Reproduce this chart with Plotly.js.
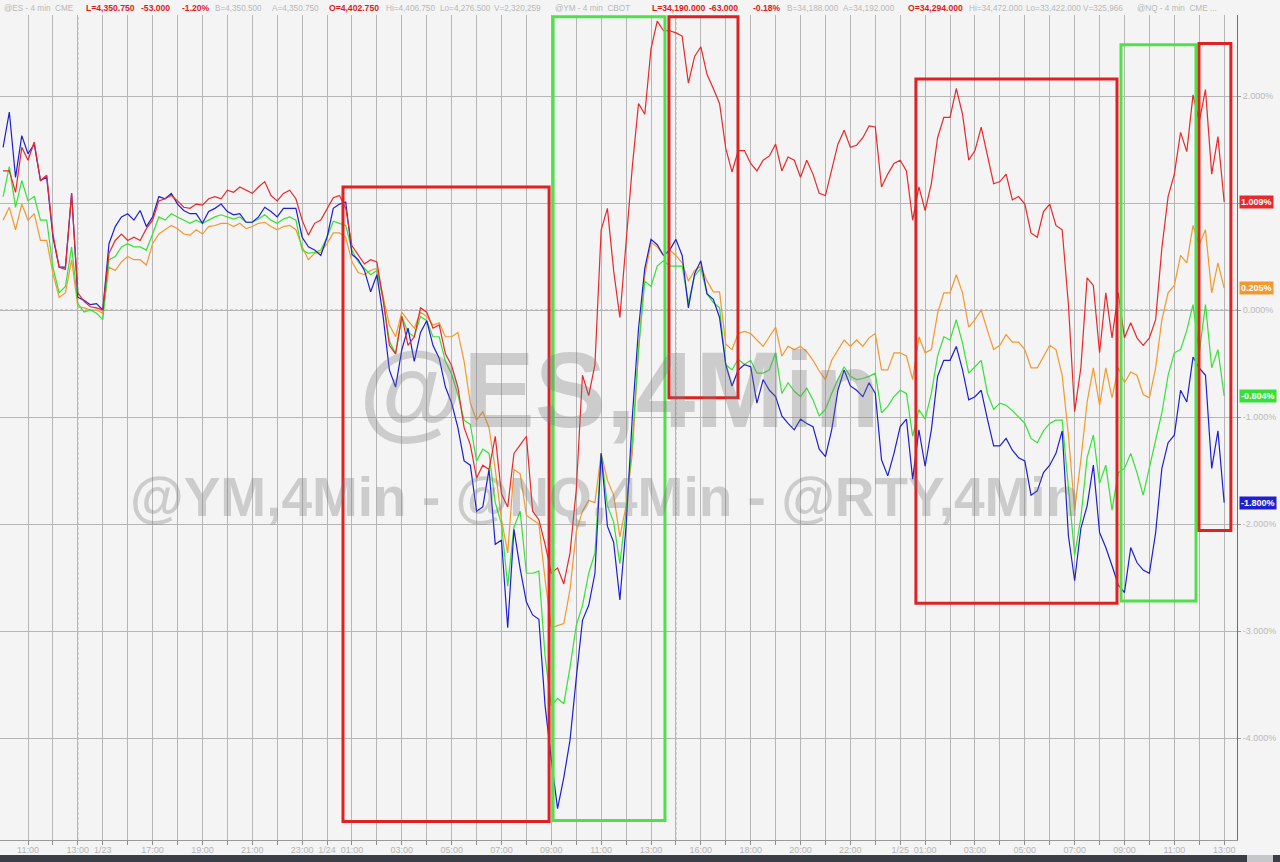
<!DOCTYPE html>
<html><head><meta charset="utf-8">
<script src="https://cdn.plot.ly/plotly-3.0.1.min.js"></script>
<style>html,body{margin:0;padding:0;background:#f4f4f4;overflow:hidden}#chart{width:1280px;height:862px}</style>
</head><body><div id="chart"></div>
<script>
// time axis: hour slots (session gaps removed), sampled every 15 minutes starting 1 slot before 11:00 on 1/21
const startSlot = -1;
const slotStep = 0.25;

const ymRed = [
1.30,1.30,1.10,1.52, 1.40,1.57,1.21,1.26, 0.71,0.40,0.38,1.09, 0.16,0.08,0.03,0.02, 0.00,0.53,0.65,0.71, 0.65,0.68,0.65,0.76, 0.84,1.02,1.04,1.07, 1.02,0.96,0.95,0.99, 0.98,1.04,1.06,1.04, 1.12,1.10,1.15,1.12, 1.09,1.15,1.20,1.07, 1.02,1.09,1.12,1.04, 0.84,0.70,0.81,0.84, 0.95,
1.05,1.07,0.95, 0.60,0.52,0.43,0.47, 0.45,0.10,-0.33,-0.41, -0.06,-0.33,-0.25,0.02, -0.02,-0.17,-0.14,-0.41, -0.52,-0.72,-1.10,-1.26, -1.57,-1.45,-1.49,-1.18, -1.72,-1.84,-1.34,-1.26, -1.18,-1.88,-1.96,-2.19, -2.46,
-2.41,-2.56,-2.27, -1.68,-0.61,-0.80,-0.51, 0.75,0.95,0.37,-0.07, 0.66,1.34,1.93,1.83, 2.44,2.70,2.61,2.61, 2.59,2.56,2.12,2.37, 2.46,2.20,2.07,1.93, 1.51,1.29,1.49,1.49,
1.37,1.30,1.40,1.44, 1.55,1.30,1.43,1.40, 1.24,1.40,1.27,1.09, 1.07,1.30,1.55,1.68, 1.52,1.54,1.61,1.72, 1.71,1.15,1.27,1.37, 1.40,1.30,0.84,1.15, 0.93,1.18,1.61,1.80, 1.80,2.07,1.83,1.40, 1.49,1.71,1.46,1.18,
1.20,1.27,1.03,1.06, 0.99,0.72,0.68,0.92, 0.99,0.79,0.75,0.05, -0.95,-0.54,0.30,0.23, -0.40,0.16,-0.26,0.16, -0.26,-0.12,-0.26,-0.33, -0.26,-0.09,0.58,1.06, 1.27,1.66,1.48,2.01, 1.76,2.06,1.27,1.62, 1.009];

const rtyOrange = [
0.84,0.96,0.75,0.99, 0.84,0.90,0.65,0.65, 0.34,0.12,0.16,0.47, 0.03,0.02,0.00,0.00, -0.03,0.40,0.37,0.45, 0.50,0.47,0.47,0.42, 0.62,0.71,0.75,0.79, 0.76,0.71,0.70,0.75, 0.71,0.78,0.79,0.81, 0.81,0.78,0.81,0.76, 0.78,0.81,0.82,0.78, 0.75,0.78,0.79,0.75, 0.59,0.47,0.53,0.54, 0.62,
0.72,0.72,0.68, 0.45,0.35,0.33,0.37, 0.39,0.14,-0.14,-0.25, -0.02,-0.10,-0.17,-0.02, -0.06,-0.14,-0.12,-0.25, -0.25,-0.21,-0.48,-0.87, -1.03,-0.95,-1.10,-1.49, -1.96,-2.27,-1.49,-1.53, -1.92,-1.96,-2.00,-2.52, -2.97,
-2.95,-2.93,-2.61, -2.07,-1.88,-1.78,-1.80, -1.34,-1.59,-1.73,-2.12, -1.83,-1.34,-0.37,0.32, 0.63,0.59,0.51,0.56, 0.51,0.44,0.27,0.37, 0.41,0.27,0.17,0.17, -0.32,-0.37,-0.22,-0.20,
-0.22,-0.28,-0.34,-0.25, -0.16,-0.43,-0.34,-0.37, -0.34,-0.39,-0.47,-0.57, -0.65,-0.47,-0.37,-0.28, -0.34,-0.28,-0.34,-0.26, -0.22,-0.56,-0.56,-0.40, -0.40,-0.43,-0.65,-0.25, -0.40,-0.37,-0.03,0.16, 0.16,0.33,0.16,-0.16, -0.09,0.00,-0.19,-0.37,
-0.33,-0.23,-0.30,-0.30, -0.37,-0.54,-0.54,-0.44, -0.33,-0.37,-0.61,-1.17, -1.87,-1.40,-0.86,-0.54, -0.89,-0.54,-0.82,-0.54, -0.68,-0.58,-0.61,-0.79, -0.82,-0.54,-0.09,0.16, 0.23,0.51,0.44,0.79, 0.61,0.75,0.16,0.44, 0.205];

const esGreen = [
1.06,1.34,0.96,1.21, 1.02,1.06,0.84,0.84, 0.40,0.16,0.22,0.59, 0.06,-0.02,0.00,-0.03, -0.09,0.47,0.50,0.59, 0.62,0.59,0.59,0.56, 0.71,0.87,0.84,0.90, 0.87,0.84,0.81,0.84, 0.81,0.84,0.87,0.89, 0.87,0.85,0.87,0.82, 0.82,0.85,0.89,0.84, 0.81,0.85,0.87,0.84, 0.56,0.53,0.54,0.56, 0.68,
0.83,0.81,0.79, 0.56,0.45,0.39,0.33, 0.37,0.10,-0.29,-0.41, -0.06,-0.21,-0.25,-0.06, -0.10,-0.25,-0.25,-0.48, -0.60,-0.79,-1.03,-1.07, -1.41,-1.30,-1.34,-1.80, -2.00,-2.58,-2.03,-1.88, -2.46,-2.46,-2.44,-3.24, -3.70,
-3.63,-3.68,-3.34, -2.95,-2.76,-2.46,-2.27, -1.34,-1.83,-1.98,-2.37, -1.88,-1.24,-0.37,0.27, 0.22,0.41,0.46,0.41, 0.41,0.41,0.07,0.32, 0.39,0.15,0.07,0.02, -0.51,-0.56,-0.46,-0.51,
-0.47,-0.59,-0.59,-0.56, -0.40,-0.78,-0.68,-0.76, -0.81,-0.73,-0.84,-0.99, -0.93,-0.78,-0.65,-0.53, -0.62,-0.65,-0.64,-0.62, -0.59,-0.96,-0.90,-0.81, -0.75,-0.78,-1.18,-0.93, -1.02,-0.78,-0.43,-0.25, -0.28,-0.09,-0.31,-0.59, -0.53,-0.47,-0.78,-0.93,
-0.87,-0.89,-0.94,-1.00, -1.06,-1.20,-1.24,-1.13, -1.06,-1.03,-1.03,-1.66, -2.29,-1.94,-1.38,-1.17, -1.62,-1.45,-1.87,-1.52, -1.48,-1.34,-1.52,-1.73, -1.48,-1.24,-0.96,-0.61, -0.40,-0.37,-0.19,0.05, -0.40,0.05,-0.54,-0.37, -0.804];

const nqBlue = [
1.52,1.85,1.24,1.63, 1.46,1.55,1.21,1.24, 0.68,0.40,0.40,1.09, 0.12,0.09,0.05,0.06, 0.00,0.62,0.78,0.87, 0.90,0.84,0.93,0.78, 0.87,1.06,1.04,1.09, 0.99,0.93,0.90,0.90, 0.81,0.92,0.95,0.99, 0.92,0.89,0.90,0.82, 0.82,0.87,0.96,0.92, 0.87,0.95,0.95,0.95, 0.68,0.59,0.56,0.51, 0.68,
0.95,0.99,1.01, 0.52,0.47,0.37,0.17, 0.33,-0.06,-0.56,-0.72, -0.37,-0.17,-0.48,-0.21, -0.10,-0.33,-0.45,-0.72, -0.87,-1.10,-1.41,-1.45, -1.88,-1.84,-1.49,-2.19, -2.15,-2.97,-2.05,-2.42, -2.73,-2.85,-2.89,-3.70, -4.20,
-4.66,-4.37,-4.02, -3.44,-2.90,-2.76,-2.46, -1.34,-2.02,-2.17,-2.71, -2.02,-1.00,-0.17,0.39, 0.66,0.61,0.51,0.56, 0.66,0.51,0.02,0.34, 0.46,0.15,0.10,-0.07, -0.51,-0.71,-0.56,-0.51,
-0.53,-0.87,-0.65,-0.75, -0.81,-0.99,-1.06,-1.12, -1.02,-1.06,-1.09,-1.30, -1.37,-1.12,-0.75,-0.56, -0.71,-0.75,-0.81,-0.68, -0.78,-1.40,-1.55,-1.34, -1.09,-1.02,-1.58,-1.12, -1.46,-1.12,-0.62,-0.47, -0.47,-0.34,-0.56,-0.84, -0.81,-0.75,-1.02,-1.27,
-1.27,-1.20,-1.31,-1.38, -1.41,-1.73,-1.69,-1.52, -1.45,-1.34,-1.13,-2.11, -2.53,-2.04,-1.83,-1.45, -2.08,-2.22,-2.39,-2.57, -2.64,-2.22,-2.36,-2.43, -2.46,-2.08,-1.48,-1.24, -1.17,-0.75,-0.86,-0.44, -0.54,-0.61,-1.48,-1.13, -1.80];

// x tick labels (hour slot -> label)
const labelSlots = [0,2,3,5,7,9,11,12,13,15,17,19,21,23,25,27,29,31,33,35,36,38,40,42,44,46,48];
const labelTexts = ['11:00','13:00','1/23','17:00','19:00','21:00','23:00','1/24','01:00','03:00','05:00','07:00','09:00','11:00','13:00','16:00','18:00','20:00','22:00','1/25','01:00','03:00','05:00','07:00','09:00','11:00','13:00'];
const yTickVals = [2,1,0,-1,-2,-3,-4];
const yTickText = ['2.000%','1.000%','0.000%','-1.000%','-2.000%','-3.000%','-4.000%'];
const dashedSlots = [2,26];

// highlight boxes: [slotStart, slotEnd, pctTop, pctBottom, kind]
const boxes = [
  [12.64,20.91,1.15,-4.78,'red'],
  [21.07,25.56,2.74,-4.77,'green'],
  [25.72,28.49,2.74,-0.82,'red'],
  [35.63,43.70,2.16,-2.74,'red'],
  [43.86,46.87,2.48,-2.72,'green'],
  [46.99,48.27,2.49,-2.06,'red']
];

const headerChunks = [
 ['@ES - 4 min  CME','g'],['L=4,350.750','r'],['-53.000','r'],['-1.20%','r'],['B=4,350.500','g'],['A=4,350.750','g'],
 ['O=4,402.750','r'],['Hi=4,406.750','g'],['Lo=4,276.500','g'],['V=2,320,259','g'],['@YM - 4 min  CBOT','g'],
 ['L=34,190.000','r'],['-63.000','r'],['-0.18%','r'],['B=34,188.000','g'],['A=34,192.000','g'],['O=34,294.000','r'],
 ['Hi=34,472.000','g'],['Lo=33,422.000','g'],['V=325,966','g'],['@NQ - 4 min  CME ...','g']
];
const headerPx = [2,84,139,180,213,270,327,384,438,492,553,650,707,751,785,841,906,967,1024,1081,1135];

const colors = {red:'#e8282a', orange:'#f3982e', green:'#37e037', blue:'#1f1fd2'};
const boxColors = {red:'#dc2222', green:'#4fe04a'};

const n = ymRed.length;
const slots = [];
for (let i = 0; i < n; i++) slots.push(startSlot + i*slotStep);

const series = [
  {name:'@RTY', y:rtyOrange, c:colors.orange},
  {name:'@ES', y:esGreen, c:colors.green},
  {name:'@NQ', y:nqBlue, c:colors.blue},
  {name:'@YM', y:ymRed, c:colors.red}
];
const traces = series.map(s => ({x:slots, y:s.y, type:'scatter', mode:'lines', name:s.name,
  line:{color:s.c, width:1.2}, hoverinfo:'skip'}));

const plotW = 1237, plotH = 825;
const gridSlots = []; for (let k = 0; k <= 48; k++) gridSlots.push(k);
const gridText = gridSlots.map(k => { const i = labelSlots.indexOf(k); return i >= 0 ? labelTexts[i] : ''; });

const shapes = [];
dashedSlots.forEach(k => {
  shapes.push({type:'line', xref:'x', yref:'paper', x0:k, x1:k, y0:0, y1:1, layer:'between', line:{color:'#f4f4f4', width:2}});
  shapes.push({type:'line', xref:'x', yref:'paper', x0:k, x1:k, y0:0, y1:1, layer:'between', line:{color:'#a8a8a8', width:1, dash:'3px,2px'}});
});
shapes.push({type:'line', xref:'paper', yref:'y', x0:0, x1:1, y0:0, y1:0, layer:'between', line:{color:'#f4f4f4', width:2}});
shapes.push({type:'line', xref:'paper', yref:'y', x0:0, x1:1, y0:0, y1:0, layer:'between', line:{color:'#a8a8a8', width:1, dash:'3px,2px'}});
boxes.forEach(b => shapes.push({type:'rect', xref:'x', yref:'y', x0:b[0], x1:b[1], y0:b[2], y1:b[3],
  line:{color:boxColors[b[4]], width:3}, fillcolor:'rgba(0,0,0,0)', layer:'above'}));
shapes.push({type:'rect', xref:'paper', yref:'paper', x0:-0.01, x1:1280/plotW, y0:-(855-840)/plotH, y1:-(870-840)/plotH,
  line:{width:0}, fillcolor:'#3a3f47'});
shapes.push({type:'rect', xref:'paper', yref:'paper', x0:1247/plotW, x1:1273/plotW, y0:-(855-840)/plotH, y1:-(870-840)/plotH,
  line:{width:0}, fillcolor:'#c4c8cd'});

const wmFont = 'Liberation Sans, Arial, sans-serif';
const annotations = [];
annotations.push({xref:'paper', yref:'paper', x:619/plotW, y:(840-390)/plotH, text:'<b>@ES,4Min</b>', showarrow:false,
  font:{family:wmFont, size:107, weight:700, color:'rgba(120,120,120,0.32)'}});
annotations.push({xref:'paper', yref:'paper', x:604/plotW, y:(840-497)/plotH, text:'<b>@YM,4Min - @NQ,4Min - @RTY,4Min</b>', showarrow:false,
  font:{family:wmFont, size:55, weight:700, color:'rgba(120,120,120,0.32)'}});
headerChunks.forEach((h, i) => annotations.push({xref:'paper', yref:'paper', x:headerPx[i]/plotW, y:1, xanchor:'left', yanchor:'bottom', yshift:0,
  text: h[1]==='r' ? '<b>'+h[0]+'</b>' : h[0], showarrow:false,
  font:{family:wmFont, size: h[1]==='r' ? 8.6 : 8.2, color: h[1]==='r' ? '#e01818' : '#b8b8b8'}}));
series.forEach(s => {
  const last = s.y[s.y.length-1];
  annotations.push({xref:'paper', yref:'y', x:1, y:last, xanchor:'left', xshift:2, showarrow:false,
    text:'<b>'+last.toFixed(3)+'%</b>', bgcolor:s.c, borderpad:1,
    font:{family:wmFont, size:9, color:'#ffffff'}});
});

const layout = {
  width:1280, height:862,
  margin:{l:0, r:43, t:15, b:22, pad:0},
  paper_bgcolor:'#f4f4f4', plot_bgcolor:'#f4f4f4',
  showlegend:false, hovermode:false, dragmode:false,
  font:{family:wmFont, size:9, color:'#b0b0b0'},
  xaxis:{range:[-1.124,48.515], tickmode:'array', tickvals:gridSlots, ticktext:gridText, showgrid:true, gridcolor:'#b6b6b6', gridwidth:1,
    ticks:'outside', ticklen:4, tickcolor:'#8c8c8c', showline:true, linecolor:'#9a9a9a', zeroline:false,
    ticklabelstandoff:-3, tickfont:{size:9, color:'#b4b4b4'}, fixedrange:true},
  yaxis:{side:'right', range:[-4.953,2.757], tickmode:'array', tickvals:yTickVals, ticktext:yTickText, showgrid:true, gridcolor:'#b6b6b6',
    zeroline:false, ticks:'outside', ticklen:3, tickcolor:'#9a9a9a', showline:true, linecolor:'#6e6e6e',
    tickfont:{size:9, color:'#bababa'}, fixedrange:true},
  shapes:shapes, annotations:annotations
};
Plotly.newPlot('chart', traces, layout, {displayModeBar:false, staticPlot:true});
</script></body></html>
